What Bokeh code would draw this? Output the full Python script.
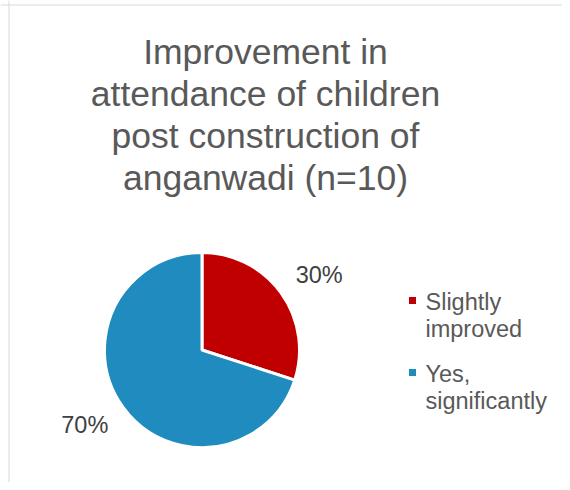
import math
from bokeh.plotting import figure
from bokeh.models import ColumnDataSource, Range1d, Span
from bokeh.core.properties import value
from bokeh.embed import file_html
from bokeh.resources import INLINE

categories = ["Slightly improved", "Yes, significantly"]
shares = [30, 70]
colors = ["#C00000", "#1F8BBF"]
legend_lines = [["Slightly", "improved"], ["Yes,", "significantly"]]
title_lines = ["Improvement in", "attendance of children", "post construction of", "anganwadi (n=10)"]

W, H = 562, 482
p = figure(width=W, height=H, output_backend="svg", toolbar_location=None,
           x_range=Range1d(0, W), y_range=Range1d(0, H), min_border=0,
           outline_line_color=None, background_fill_color="white", border_fill_color="white")
p.axis.visible = False
p.grid.visible = False

# frame (top and left edges visible in reference)
p.add_layout(Span(location=H - 4.5, dimension="width", line_color="#D9D9D9", line_width=1))
p.add_layout(Span(location=8.5, dimension="height", line_color="#D9D9D9", line_width=1))

cx, cy, r = 201.5, 132.5, 97.5
total = sum(shares)
starts, ends, mids = [], [], []
a = math.pi / 2
for s in shares:
    sweep = 2 * math.pi * s / total
    starts.append(a)
    ends.append(a - sweep)
    mids.append(a - sweep / 2)
    a -= sweep

src = ColumnDataSource(dict(x=[cx] * 2, y=[cy] * 2, start=starts, end=ends, color=colors))
p.wedge(x="x", y="y", radius=r, start_angle="start", end_angle="end", direction="clock",
        fill_color="color", line_color="white", line_width=3, source=src)

lr = 139
tweak = math.radians(3.5)
lab = ColumnDataSource(dict(
    x=[cx + lr * math.cos(m - tweak) for m in mids],
    y=[cy + lr * math.sin(m - tweak) for m in mids] ,
    t=[f"{s}%" for s in shares]))
p.text(x="x", y="y", text="t", source=lab, text_align="center", text_baseline="middle",
       text_font=value("Liberation Sans"), text_font_size="23.5px", text_color="#404040")

# title
ty0, tstep = 431, 42.3
tsrc = ColumnDataSource(dict(x=[265] * len(title_lines),
                             y=[ty0 - i * tstep for i in range(len(title_lines))],
                             t=title_lines))
p.text(x="x", y="y", text="t", source=tsrc, text_align="center", text_baseline="middle",
       text_font=value("Liberation Sans"), text_font_size="35.5px", text_color="#595959")

# legend
leg_y = [182, 110]
p.scatter(x=[412] * 2, y=leg_y, marker="square", size=7, fill_color=colors, line_color=None)
lx, ly, lt = [], [], []
for i, lines in enumerate(legend_lines):
    for j, ln in enumerate(lines):
        lx.append(425)
        ly.append(leg_y[i] - 1.5 - j * 27)
        lt.append(ln)
p.text(x=lx, y=ly, text=lt, text_align="left", text_baseline="middle",
       text_font=value("Liberation Sans"), text_font_size="23.5px", text_color="#595959")

open("out.html", "w").write(file_html(p, INLINE))
